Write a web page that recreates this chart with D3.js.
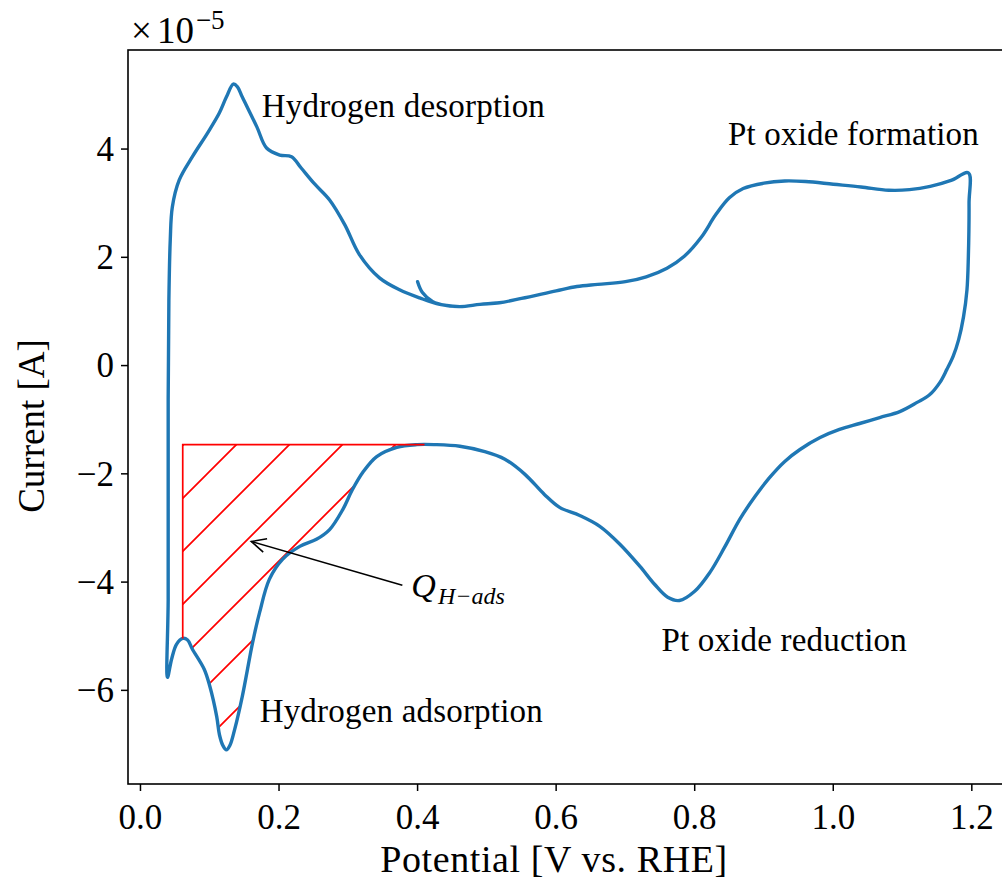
<!DOCTYPE html>
<html>
<head>
<meta charset="utf-8">
<script src="https://cdn.jsdelivr.net/npm/d3@7"></script>
<style>
  body { margin: 0; background: #fff; }
  text { font-family: "Liberation Serif", "Times New Roman", serif; fill: #000; }
</style>
</head>
<body>
<svg id="cv"></svg>
<script>
// cyclic voltammogram, current in units of 1e-5 A
var potential = [
  0.400, 0.407, 0.422, 0.442, 0.461, 0.490, 0.518, 0.550, 0.600, 0.630,
  0.660, 0.700, 0.730, 0.760, 0.785, 0.810, 0.830, 0.850, 0.870, 0.900,
  0.930, 0.960, 1.000, 1.040, 1.080, 1.110, 1.140, 1.170, 1.195, 1.196,
  1.195, 1.193, 1.188, 1.181, 1.173, 1.164, 1.154, 1.139, 1.121, 1.096,
  1.067, 1.038, 1.009, 0.981, 0.952, 0.930, 0.908, 0.887, 0.865, 0.843,
  0.822, 0.800, 0.778, 0.761, 0.742, 0.721, 0.692, 0.663, 0.634, 0.605,
  0.583, 0.555, 0.526, 0.497, 0.461, 0.425, 0.399, 0.370, 0.341, 0.321,
  0.306, 0.292, 0.273, 0.254, 0.230, 0.205, 0.186, 0.172, 0.162, 0.147,
  0.136, 0.129, 0.124, 0.119, 0.114, 0.110, 0.100, 0.092, 0.075, 0.068,
  0.061, 0.052, 0.045, 0.039, 0.040, 0.040, 0.041, 0.043, 0.046, 0.056,
  0.075, 0.097, 0.114, 0.124, 0.134, 0.140, 0.147, 0.168, 0.182, 0.201,
  0.218, 0.232, 0.251, 0.273, 0.295, 0.316, 0.345, 0.374, 0.403, 0.432,
  0.461, 0.490, 0.518
];
var current = [
  1.55, 1.35, 1.18, 1.11, 1.09, 1.13, 1.16, 1.24, 1.38, 1.46,
  1.50, 1.55, 1.64, 1.80, 2.02, 2.38, 2.78, 3.10, 3.27, 3.37,
  3.41, 3.40, 3.35, 3.30, 3.24, 3.25, 3.31, 3.42, 3.56, 3.00,
  2.01, 1.40, 0.90, 0.48, 0.17, -0.07, -0.31, -0.54, -0.68, -0.85,
  -0.96, -1.07, -1.18, -1.33, -1.55, -1.77, -2.07, -2.42, -2.84, -3.36,
  -3.82, -4.17, -4.34, -4.28, -4.04, -3.71, -3.30, -2.97, -2.77, -2.62,
  -2.38, -2.01, -1.73, -1.59, -1.49, -1.46, -1.46, -1.51, -1.68, -1.97,
  -2.29, -2.66, -3.03, -3.21, -3.34, -3.58, -3.95, -4.56, -5.11, -6.11,
  -6.72, -7.02, -7.10, -7.02, -6.82, -6.48, -5.92, -5.61, -5.24, -5.07,
  -5.04, -5.15, -5.42, -5.76, -4.32, -0.63, 1.20, 2.32, 2.93, 3.43,
  3.86, 4.30, 4.67, 4.96, 5.20, 5.15, 4.96, 4.41, 4.02, 3.89,
  3.86, 3.65, 3.36, 3.06, 2.60, 2.05, 1.62, 1.40, 1.25, 1.13,
  1.09, 1.13, 1.16
];

// hydrogen adsorption charge area
var hatchTop = -1.46, hatchFrom = 0.061, hatchTo = 0.41;

var xTicks = [0.0, 0.2, 0.4, 0.6, 0.8, 1.0, 1.2];
var yTicks = [-6, -4, -2, 0, 2, 4];

var labelText = ["Hydrogen desorption", "Pt oxide formation", "Pt oxide reduction", "Hydrogen adsorption"];
var labelV = [0.175, 0.848, 0.752, 0.172];
var labelI = [4.59, 4.08, -5.28, -6.59];

var qText = ["Q", "H\u2212ads"];
var qAt = [0.391, -4.28];       // text position
var qArrowFrom = [0.378, -4.06];
var qArrowTo = [0.160, -3.25];

var W = 1002, H = 884,
  margin = {left: 128, top: 50},
  plotW = 884, plotH = 734;

var svg = d3.select('#cv').attr('width', W).attr('height', H);

var x = d3.scaleLinear().domain([-0.018, 1.258]).range([0, plotW]);
var y = d3.scaleLinear().domain([-7.73, 5.83]).range([plotH, 0]);

var pts = potential.map(function(v, i) { return [v, current[i]]; });

var g = svg.append('g')
  .attr('transform', 'translate(' + margin.left + ',' + margin.top + ')');

// hatch pattern, 45 deg red lines
var step = 53;
var off = ((681 - margin.left - margin.top - step) % step + step) % step;
var pat = svg.append('defs').append('pattern')
  .attr('id', 'hatch')
  .attr('patternUnits', 'userSpaceOnUse')
  .attr('x', off).attr('y', 0)
  .attr('width', step).attr('height', step);
pat.append('path')
  .attr('d', 'M-2,2 L2,-2 M0,' + step + ' L' + step + ',0 M' + (step - 2) + ',' + (step + 2) + ' L' + (step + 2) + ',' + (step - 2))
  .attr('stroke', 'red')
  .attr('stroke-width', 1.7);

var line = d3.line()
  .x(function(d) { return x(d[0]); })
  .y(function(d) { return y(d[1]); })
  .curve(d3.curveCatmullRom.alpha(0.5));

// cathodic sweep = from the upper vertex down to the lower vertex
var iMax = d3.maxIndex(potential), iMin = d3.minIndex(potential);
var cathodic = pts.slice(iMax, iMin + 1).filter(function(d) {
  return d[0] >= hatchFrom && d[0] <= hatchTo;
});
var lower = line(cathodic).replace(/^M/, 'L');
var hatchPath = 'M' + x(hatchFrom) + ',' + y(hatchTop) +
  'L' + x(hatchTo) + ',' + y(hatchTop) + lower + 'Z';

g.append('path')
  .attr('d', hatchPath)
  .attr('fill', 'url(#hatch)')
  .attr('stroke', 'none');

g.append('path')
  .datum(pts)
  .attr('d', line)
  .attr('fill', 'none')
  .attr('stroke', '#1f77b4')
  .attr('stroke-width', 3.4)
  .attr('stroke-linejoin', 'round')
  .attr('stroke-linecap', 'round');

// red edge of the area (left side and top)
var last = cathodic[cathodic.length - 1];
g.append('path')
  .attr('d', 'M' + x(last[0]) + ',' + y(last[1]) +
    'L' + x(hatchFrom) + ',' + y(hatchTop) +
    'L' + x(hatchTo) + ',' + y(hatchTop))
  .attr('fill', 'none')
  .attr('stroke', 'red')
  .attr('stroke-width', 1.7);

// spines (right one falls outside the picture)
g.append('rect')
  .attr('width', plotW).attr('height', plotH)
  .attr('fill', 'none').attr('stroke', '#000').attr('stroke-width', 1.6);

// ticks
g.selectAll('line.xtick').data(xTicks).enter().append('line')
  .attr('class', 'xtick')
  .attr('x1', function(d) { return x(d); }).attr('x2', function(d) { return x(d); })
  .attr('y1', plotH).attr('y2', plotH + 7)
  .attr('stroke', '#000').attr('stroke-width', 1.5);
g.selectAll('text.xlab').data(xTicks).enter().append('text')
  .attr('class', 'xlab')
  .attr('x', function(d) { return x(d); })
  .attr('y', plotH + 45)
  .attr('text-anchor', 'middle')
  .style('font-size', '35px')
  .text(function(d) { return d.toFixed(1); });

g.selectAll('line.ytick').data(yTicks).enter().append('line')
  .attr('class', 'ytick')
  .attr('y1', function(d) { return y(d); }).attr('y2', function(d) { return y(d); })
  .attr('x1', 0).attr('x2', -7)
  .attr('stroke', '#000').attr('stroke-width', 1.5);
g.selectAll('text.ylab').data(yTicks).enter().append('text')
  .attr('class', 'ylab')
  .attr('x', -14)
  .attr('y', function(d) { return y(d); })
  .attr('dy', '0.34em')
  .attr('text-anchor', 'end')
  .style('font-size', '35px')
  .text(function(d) { return d < 0 ? '\u2212' + (-d) : String(d); });

// offset text
var off10 = svg.append('text').attr('x', 131).attr('y', 43).style('font-size', '37px');
off10.append('tspan').text('\u00d7');
off10.append('tspan').attr('dx', 5).text('10');
off10.append('tspan').attr('dx', 2).attr('dy', -14).style('font-size', '27px').text('\u22125');

// axis titles
svg.append('text')
  .attr('x', 554).attr('y', 872)
  .attr('text-anchor', 'middle')
  .style('font-size', '38px')
  .style('letter-spacing', '0.6px')
  .text('Potential [V vs. RHE]');
svg.append('text')
  .attr('transform', 'translate(44,426) rotate(-90)')
  .attr('text-anchor', 'middle')
  .style('font-size', '37px')
  .text('Current [A]');

// annotations
g.selectAll('text.ann').data(labelText).enter().append('text')
  .attr('class', 'ann')
  .attr('x', function(d, i) { return x(labelV[i]); })
  .attr('y', function(d, i) { return y(labelI[i]); })
  .style('font-size', '33px')
  .style('letter-spacing', '0.2px')
  .text(function(d) { return d; });

var q = g.append('text')
  .attr('x', x(qAt[0])).attr('y', y(qAt[1]))
  .style('font-size', '34px').style('font-style', 'italic');
q.append('tspan').text(qText[0]);
q.append('tspan').attr('dx', 2).attr('dy', 7).style('font-size', '24px').text(qText[1]);

// arrow with open head
var ax0 = x(qArrowFrom[0]), ay0 = y(qArrowFrom[1]),
  ax1 = x(qArrowTo[0]), ay1 = y(qArrowTo[1]),
  ang = Math.atan2(ay0 - ay1, ax0 - ax1), hl = 16, hw = 0.45;
g.append('line')
  .attr('x1', ax0).attr('y1', ay0).attr('x2', ax1).attr('y2', ay1)
  .attr('stroke', '#000').attr('stroke-width', 1.6);
g.append('path')
  .attr('d', 'M' + (ax1 + hl * Math.cos(ang + hw)) + ',' + (ay1 + hl * Math.sin(ang + hw)) +
    'L' + ax1 + ',' + ay1 +
    'L' + (ax1 + hl * Math.cos(ang - hw)) + ',' + (ay1 + hl * Math.sin(ang - hw)))
  .attr('fill', 'none').attr('stroke', '#000').attr('stroke-width', 1.6);
</script>
</body>
</html>
